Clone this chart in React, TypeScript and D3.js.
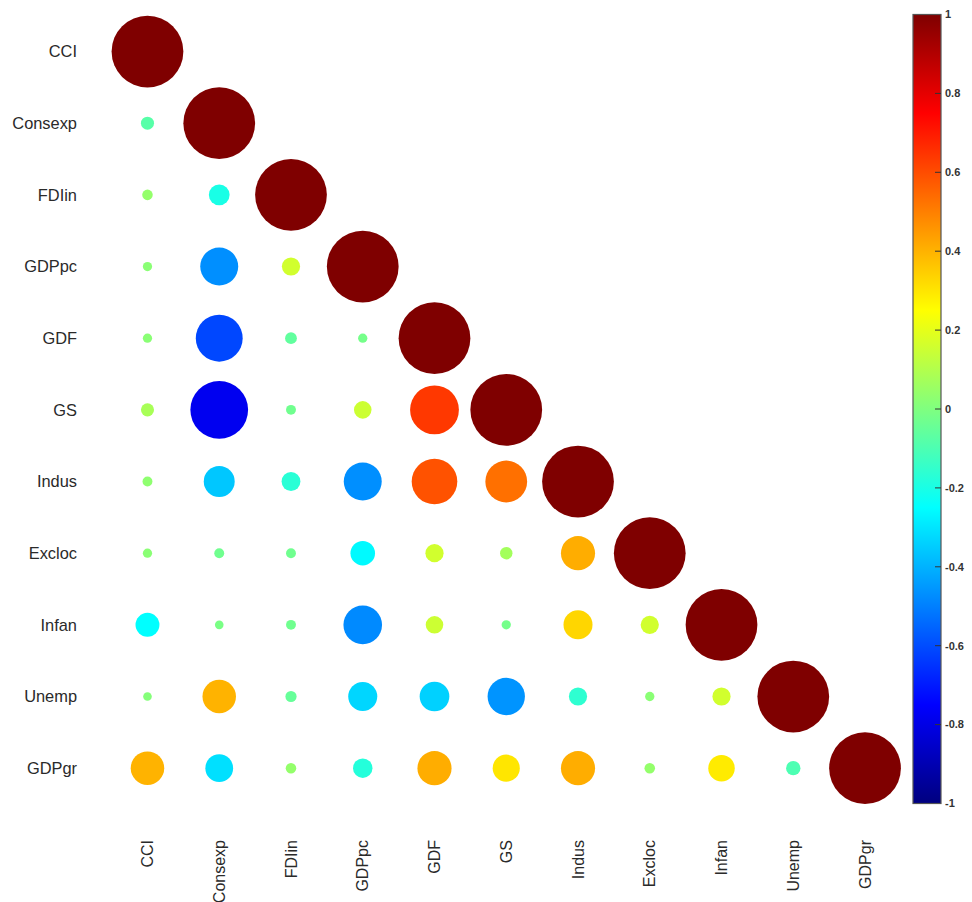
import React from "react";
import * as d3 from "d3";

const variables = ["CCI", "Consexp", "FDIin", "GDPpc", "GDF", "GS", "Indus", "Excloc", "Infan", "Unemp", "GDPgr"];

// lower-triangle correlations, row i holds values against columns 0..i-1
const rowConsexp = [-0.08];
const rowFDIin = [0.04, -0.2];
const rowGDPpc = [0.02, -0.47, 0.16];
const rowGDF = [0.02, -0.61, -0.06, -0.02];
const rowGS = [0.08, -0.78, -0.03, 0.15, 0.64];
const rowIndus = [0.03, -0.36, -0.17, -0.47, 0.59, 0.53];
const rowExcloc = [0.02, -0.03, -0.03, -0.26, 0.16, 0.07, 0.41];
const rowInfan = [-0.25, -0.01, -0.03, -0.48, 0.15, -0.02, 0.33, 0.16];
const rowUnemp = [0.01, 0.4, -0.05, -0.33, -0.34, -0.46, -0.16, 0.02, 0.16];
const rowGDPgr = [0.4, -0.31, 0.04, -0.18, 0.41, 0.3, 0.41, 0.04, 0.29, -0.1];

const lowerRows = [[], rowConsexp, rowFDIin, rowGDPpc, rowGDF, rowGS, rowIndus, rowExcloc, rowInfan, rowUnemp, rowGDPgr];

const colorbarTicks = [1, 0.8, 0.6, 0.4, 0.2, 0, -0.2, -0.4, -0.6, -0.8, -1];

const jetDomain = [-1, -0.75, -0.25, 0.25, 0.75, 1];
const jetRange = ["#00007f", "#0000ff", "#00ffff", "#ffff00", "#ff0000", "#7f0000"];

export default function App() {
  const W = 972;
  const H = 902;
  const gridLeft = 111.6;
  const gridRight = 900.9;
  const gridTop = 15.7;
  const gridBottom = 804;

  const x = d3.scaleBand<string>().domain(variables).range([gridLeft, gridRight]).padding(0);
  const y = d3.scaleBand<string>().domain(variables).range([gridTop, gridBottom]).padding(0);
  const bw = x.bandwidth();
  const color = d3.scaleLinear<string>().domain(jetDomain).range(jetRange).interpolate(d3.interpolateRgb).clamp(true);
  const rScale = d3.scaleLinear().domain([0, 1]).range([4, bw / 2]);

  const cells: { r: string; c: string; v: number }[] = [];
  variables.forEach((rv, i) => {
    lowerRows[i].forEach((v, j) => cells.push({ r: rv, c: variables[j], v }));
    cells.push({ r: rv, c: rv, v: 1 });
  });

  const cbX = 913;
  const cbW = 28;
  const cbY = d3.scaleLinear().domain([-1, 1]).range([803.5, 14.5]);

  const labelFont = "'Liberation Sans', Arial, Helvetica, sans-serif";

  return (
    <svg width={W} height={H} style={{ position: "absolute", left: 0, top: 0, background: "#fff" }}>
      <defs>
        <linearGradient id="jet" x1="0" y1="1" x2="0" y2="0">
          {jetDomain.map((d, i) => (
            <stop key={i} offset={(d + 1) / 2} stopColor={jetRange[i]} />
          ))}
        </linearGradient>
      </defs>
      <rect x={0} y={0} width={W} height={H} fill="#fff" />
      {cells.map((d, i) => (
        <circle
          key={i}
          cx={(x(d.c) as number) + bw / 2}
          cy={(y(d.r) as number) + y.bandwidth() / 2}
          r={rScale(Math.abs(d.v))}
          fill={color(d.v)}
        />
      ))}
      {variables.map((v) => (
        <text
          key={"yl" + v}
          x={77}
          y={(y(v) as number) + y.bandwidth() / 2}
          dy="0.35em"
          textAnchor="end"
          fontFamily={labelFont}
          fontSize={16.4}
          fill="#2a2a2a"
        >
          {v}
        </text>
      ))}
      {variables.map((v) => {
        const cx = (x(v) as number) + bw / 2;
        return (
          <text
            key={"xl" + v}
            transform={`translate(${cx},840) rotate(-90)`}
            dy="0.35em"
            textAnchor="end"
            fontFamily={labelFont}
            fontSize={16}
            fill="#2a2a2a"
          >
            {v}
          </text>
        );
      })}
      <rect x={cbX} y={cbY(1)} width={cbW} height={cbY(-1) - cbY(1)} fill="url(#jet)" stroke="#555" strokeWidth={1.2} />
      {colorbarTicks.map((t) => (
        <g key={"cb" + t}>
          {t !== 1 && t !== -1 && (
            <line x1={cbX + cbW - 6} x2={cbX + cbW} y1={cbY(t)} y2={cbY(t)} stroke="#333" strokeWidth={1} />
          )}
          <text
            x={cbX + cbW + 4}
            y={cbY(t)}
            dy="0.35em"
            fontFamily={labelFont}
            fontSize={11}
            fontWeight={600}
            fill="#333"
          >
            {String(t)}
          </text>
        </g>
      ))}
    </svg>
  );
}
